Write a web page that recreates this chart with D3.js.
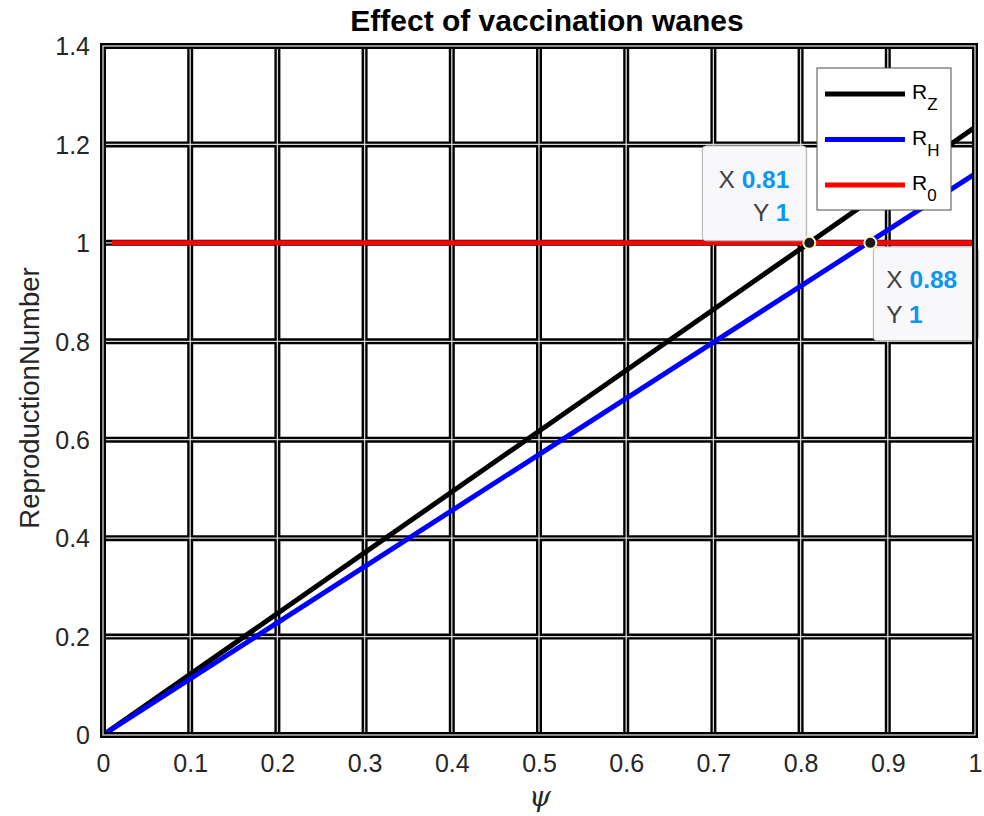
<!DOCTYPE html>
<html>
<head>
<meta charset="utf-8">
<title>Effect of vaccination wanes</title>
<style>
  body { margin: 0; background: #fff; }
  text { font-family: "Liberation Sans", Arial, Helvetica, sans-serif; }
</style>
</head>
<body>
<script src="https://cdn.jsdelivr.net/npm/d3@7"></script>
<script>
// data
var psi = [0, 1];
var rZ = [0, 1.235];
var rH = [0, 1.14];
var psi0 = [0.01, 1];
var r0 = [1, 1];
var xTicks = [0, 0.1, 0.2, 0.3, 0.4, 0.5, 0.6, 0.7, 0.8, 0.9, 1];
var yTicks = [0, 0.2, 0.4, 0.6, 0.8, 1, 1.2, 1.4];
var tipX = [0.81, 0.88];
var tipY = [1, 1];
var seriesNames = ["Z", "H", "0"];
var seriesColors = ["#000000", "#0000ff", "#ff0000"];

var margin = {top: 46, right: 9, bottom: 81, left: 103};
var W = 984, H = 816;
var width = W - margin.left - margin.right,
    height = H - margin.top - margin.bottom;

var svg = d3.select("body").append("svg")
  .attr("width", W)
  .attr("height", H);

var g = svg.append("g")
  .attr("transform", "translate(" + margin.left + "," + margin.top + ")");

var x = d3.scaleLinear().domain([0, 1]).range([0, width]);
var y = d3.scaleLinear().domain([0, 1.4]).range([height, 0]);

// grid, drawn as double lines (thick black + thin light core)
var grid = g.append("g");
[["#000", 6], ["#d8d8d8", 1.3]].forEach(function (st) {
  xTicks.forEach(function (t) {
    grid.append("line").attr("x1", x(t)).attr("x2", x(t)).attr("y1", 0).attr("y2", height)
      .attr("stroke", st[0]).attr("stroke-width", st[1]);
  });
  yTicks.forEach(function (t) {
    grid.append("line").attr("y1", y(t)).attr("y2", y(t)).attr("x1", 0).attr("x2", width)
      .attr("stroke", st[0]).attr("stroke-width", st[1]);
  });
});

// series lines
var line = d3.line().x(function (d) { return x(d[0]); }).y(function (d) { return y(d[1]); });
var series = [d3.zip(psi, rZ), d3.zip(psi, rH), d3.zip(psi0, r0)];
series.forEach(function (s, i) {
  g.append("path").datum(s)
    .attr("d", line)
    .attr("fill", "none")
    .attr("stroke", seriesColors[i])
    .attr("stroke-width", 5);
});

// axes
var xAxis = g.append("g").attr("transform", "translate(0," + height + ")")
  .call(d3.axisBottom(x).tickValues(xTicks).tickSize(0).tickPadding(37)
    .tickFormat(function (d) { return d3.format("~g")(d); }));
var yAxis = g.append("g")
  .call(d3.axisLeft(y).tickValues(yTicks).tickSize(0).tickPadding(13)
    .tickFormat(function (d) { return d3.format("~g")(d); }));
[xAxis, yAxis].forEach(function (a) {
  a.select(".domain").remove();
  a.selectAll("text").attr("font-size", 25).attr("fill", "#262626")
    .attr("font-family", "'Liberation Sans', Arial, sans-serif");
});
yAxis.selectAll("text").attr("dy", "0.35em");
xAxis.selectAll("text").attr("dy", "0");

// data tips
var tipBoxes = [
  {dx: -107, dy: -97, w: 104, h: 95, anchor: "end", tx: 87, ty: [42, 75]},
  {dx: 3, dy: 4, w: 105, h: 94, anchor: "start", tx: 13, ty: [41, 76]}
];
tipX.forEach(function (tx, i) {
  var b = tipBoxes[i];
  var px = x(tx), py = y(tipY[i]);
  var tg = g.append("g").attr("transform", "translate(" + (px + b.dx) + "," + (py + b.dy) + ")");
  tg.append("rect").attr("x", 1.5).attr("y", 1.5).attr("width", b.w).attr("height", b.h)
    .attr("rx", 4).attr("fill", "#000").attr("opacity", 0.06);
  tg.append("rect").attr("width", b.w).attr("height", b.h).attr("rx", 4)
    .attr("fill", "#f8f8fb").attr("stroke", "#b0b0b0").attr("stroke-width", 1);
  var rows = [["X", tx], ["Y", tipY[i]]];
  rows.forEach(function (r, j) {
    var t = tg.append("text").attr("x", b.tx).attr("y", b.ty[j])
      .attr("text-anchor", b.anchor).attr("font-size", 24.5);
    t.append("tspan").attr("fill", "#404040").text(r[0] + " ");
    t.append("tspan").attr("fill", "#0a97f0").attr("font-weight", "bold").text(d3.format("~g")(r[1]));
  });
  g.append("circle").attr("cx", px).attr("cy", py).attr("r", 6)
    .attr("fill", "#1a1a1a").attr("stroke", "#fff6d0").attr("stroke-width", 2);
});

// axes box
g.append("rect").attr("width", width).attr("height", height)
  .attr("fill", "none").attr("stroke", "#000").attr("stroke-width", 6);
g.append("rect").attr("width", width).attr("height", height)
  .attr("fill", "none").attr("stroke", "#d8d8d8").attr("stroke-width", 1.3);

// legend
var lg = svg.append("g").attr("transform", "translate(817,68)");
lg.append("rect").attr("width", 134).attr("height", 142)
  .attr("fill", "#fff").attr("stroke", "#4d4d4d").attr("stroke-width", 1);
seriesNames.forEach(function (n, i) {
  var ly = 26 + i * 45.5;
  lg.append("line").attr("x1", 8).attr("x2", 88).attr("y1", ly).attr("y2", ly)
    .attr("stroke", seriesColors[i]).attr("stroke-width", 5);
  var t = lg.append("text").attr("x", 95).attr("y", ly + 5).attr("font-size", 21).attr("fill", "#000");
  t.append("tspan").text("R");
  t.append("tspan").attr("font-size", 17).attr("dy", 11).text(n);
});

// title and labels
svg.append("text").attr("x", 547).attr("y", 31).attr("text-anchor", "middle")
  .attr("font-size", 30).attr("font-weight", "bold").attr("fill", "#000")
  .text("Effect of vaccination wanes");

svg.append("text").attr("transform", "translate(39,398) rotate(-90)")
  .attr("text-anchor", "middle").attr("font-size", 27.5).attr("fill", "#262626")
  .text("ReproductionNumber");

svg.append("text").attr("x", 540).attr("y", 806).attr("text-anchor", "middle")
  .attr("font-size", 28).attr("font-style", "italic").attr("fill", "#262626")
  .style("font-family", "'DejaVu Serif', 'Liberation Serif', serif")
  .text("ψ");
</script>
</body>
</html>
